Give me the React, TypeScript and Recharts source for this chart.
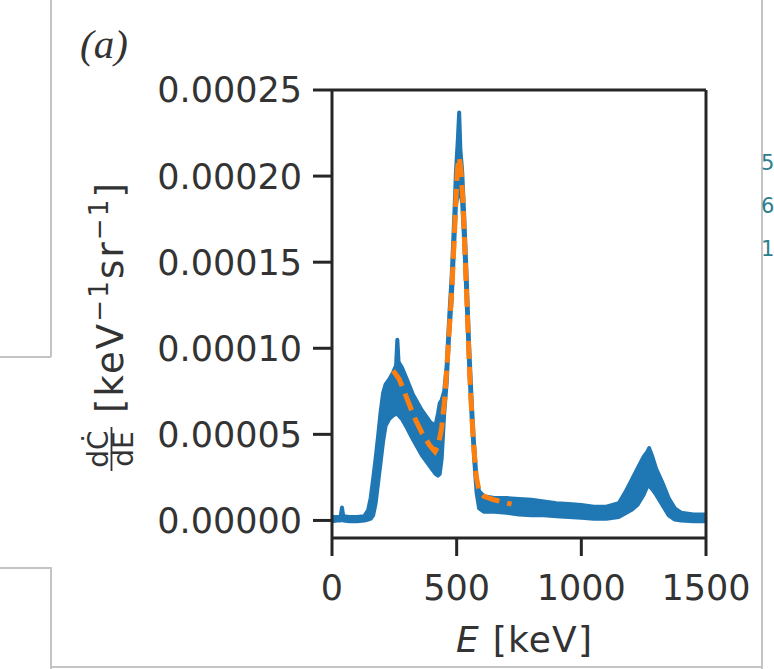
import React from "react";
import {
  Area,
  ComposedChart,
  Line,
  ReferenceLine,
  XAxis,
  YAxis,
} from "recharts";

// measured spectrum, drawn as a noisy band (values in 1e-5 keV^-1 sr^-1)
const energyKeV = [
  0, 20, 35, 40, 45, 70, 100, 130, 145, 155, 165, 175, 185, 195, 205, 215, 230,
  245, 257, 262, 267, 280, 300, 325, 360, 395, 415, 425, 432, 440, 450, 460,
  470, 480, 490, 497, 505, 510, 515, 522, 530, 540, 550, 560, 570, 580, 590,
  610, 650, 700, 750, 800, 850, 900, 950, 1000, 1050, 1100, 1150, 1175, 1200,
  1225, 1250, 1265, 1272, 1285, 1300, 1325, 1350, 1375, 1400, 1450, 1500,
];
const bandLow = [
  -0.05, 0.0, 0.0, 0.05, 0.0, -0.05, -0.05, 0.0, 0.05, 0.1, 0.3, 1.0, 2.2, 3.4,
  4.6, 5.5, 5.9, 6.1, 6.2, 6.2, 6.1, 5.9, 5.4, 4.7, 3.8, 3.1, 2.7, 2.6, 2.7,
  3.6, 6.2, 8.0, 10.8, 12.8, 16.0, 18.3, 19.0, 19.0, 19.0, 18.5, 16.2, 12.8,
  9.0, 6.0, 3.6, 1.6, 0.7, 0.5, 0.5, 0.45, 0.35, 0.3, 0.3, 0.25, 0.2, 0.15, 0.1,
  0.1, 0.2, 0.4, 0.6, 0.9, 1.5, 2.0, 2.0, 1.8, 1.5, 0.9, 0.3, 0.05, 0.0, -0.05,
  -0.05,
];
const bandHigh = [
  0.2, 0.2, 0.25, 0.75, 0.25, 0.2, 0.2, 0.25, 0.6, 1.3, 2.4, 3.6, 4.9, 6.3, 7.4,
  7.9, 8.2, 8.6, 9.0, 10.5, 9.2, 8.9, 8.2, 7.3, 6.4, 5.7, 5.5, 6.2, 6.8, 7.0,
  7.5, 9.0, 11.8, 14.2, 17.5, 20.2, 22.2, 23.7, 21.5, 20.3, 17.8, 14.2, 10.2,
  7.0, 4.4, 2.4, 1.7, 1.4, 1.3, 1.3, 1.25, 1.2, 1.1, 1.0, 0.95, 0.9, 0.8, 0.8,
  1.0, 1.6, 2.3, 3.0, 3.7, 4.0, 4.2, 3.7, 3.0, 2.2, 1.3, 0.7, 0.45, 0.35, 0.35,
];

// fitted curve (orange dashed)
const fitEnergyKeV = [
  245, 270, 300, 330, 360, 390, 413, 425, 439, 453, 466, 481, 490, 497, 503,
  510, 517, 525, 537, 553, 566, 578, 590, 610, 650, 690, 720,
];
const fitValue = [
  8.7, 8.2, 7.1, 6.0, 5.1, 4.4, 4.0, 4.3, 5.3, 7.2, 10.1, 13.5, 16.3, 18.6,
  20.4, 21.1, 20.4, 18.6, 14.2, 8.2, 4.8, 2.6, 1.7, 1.4, 1.2, 1.05, 0.95,
];

const xTicks = [0, 500, 1000, 1500];
const yTicks = [0, 0.00005, 0.0001, 0.00015, 0.0002, 0.00025];

const UNIT = 1e-5;

type Row = { energy: number; band?: [number, number]; fit?: number };

const rowMap = new Map<number, Row>();
energyKeV.forEach((e, i) => {
  rowMap.set(e, { energy: e, band: [bandLow[i] * UNIT, bandHigh[i] * UNIT] });
});
fitEnergyKeV.forEach((e, i) => {
  const r = rowMap.get(e) ?? { energy: e };
  r.fit = fitValue[i] * UNIT;
  rowMap.set(e, r);
});
const table = [...rowMap.values()].sort((a, b) => a.energy - b.energy);

const INK = "#262626";
const TEXT = "#333333";
const FONT = "DejaVu Sans";
const FRAME = "#c4c4c4";

const tickStyle = { fontSize: 35, fill: TEXT, fontFamily: FONT };

function Frame() {
  const line = (s: React.CSSProperties) => (
    <div style={{ position: "absolute", background: FRAME, ...s }} />
  );
  return (
    <>
      {line({ left: 50, top: 0, width: 1.5, height: 357 })}
      {line({ left: 0, top: 356, width: 51, height: 1.5 })}
      {line({ left: 0, top: 567, width: 51, height: 1.5 })}
      {line({ left: 50, top: 567, width: 1.5, height: 102 })}
      {line({ left: 50, top: 666, width: 712, height: 1.5 })}
      {line({ left: 761, top: 0, width: 1.5, height: 669 })}
    </>
  );
}

export default function App() {
  return (
    <div
      style={{
        position: "absolute",
        left: 0,
        top: 0,
        width: 774,
        height: 669,
        background: "#fff",
        overflow: "hidden",
      }}
    >
      <Frame />
      <ComposedChart
        width={774}
        height={669}
        data={table}
        margin={{ top: 90, right: 68, bottom: 71, left: 0 }}
      >
        <XAxis
          type="number"
          dataKey="energy"
          domain={[0, 1500]}
          ticks={xTicks}
          height={60}
          tickSize={18}
          tickMargin={19}
          tick={tickStyle}
          axisLine={{ stroke: INK, strokeWidth: 3 }}
          tickLine={{ stroke: INK, strokeWidth: 3 }}
          allowDataOverflow
        />
        <YAxis
          type="number"
          domain={[-1.02e-5, 0.00025]}
          ticks={yTicks}
          width={332}
          tickSize={19}
          tickMargin={11}
          tick={tickStyle}
          tickFormatter={(v: number) => v.toFixed(5)}
          axisLine={{ stroke: INK, strokeWidth: 3 }}
          tickLine={{ stroke: INK, strokeWidth: 3 }}
          allowDataOverflow
        />
        <Area
          type="linear"
          dataKey="band"
          stroke="#1f77b4"
          strokeWidth={4}
          strokeLinejoin="round"
          fill="#1f77b4"
          fillOpacity={1}
          connectNulls
          dot={false}
          activeDot={false}
          isAnimationActive={false}
        />
        <Line
          type="linear"
          dataKey="fit"
          stroke="#ff7f0e"
          strokeWidth={5}
          strokeDasharray="18 8"
          connectNulls
          dot={false}
          activeDot={false}
          isAnimationActive={false}
        />
        <ReferenceLine y={0.00025} stroke={INK} strokeWidth={3} />
        <ReferenceLine x={1500} stroke={INK} strokeWidth={3} />
      </ComposedChart>

      <svg
        width={774}
        height={669}
        style={{ position: "absolute", left: 0, top: 0, pointerEvents: "none" }}
      >
        <text
          x={80}
          y={58}
          fontFamily="Liberation Serif"
          fontStyle="italic"
          fontSize={41}
          fill={TEXT}
        >
          (a)
        </text>
        <text
          x={524}
          y={652}
          textAnchor="middle"
          fontFamily={FONT}
          fontSize={36}
          textLength={136}
          lengthAdjust="spacing"
          fill={TEXT}
        >
          <tspan fontStyle="italic">E</tspan> [keV]
        </text>
        <g transform="translate(123, 473) rotate(-90)" fontFamily={FONT} fill={TEXT}>
          <text x={24} y={-15} fontSize={28} textAnchor="middle">
            dĊ
          </text>
          <line x1={2} x2={46} y1={-11.5} y2={-11.5} stroke={TEXT} strokeWidth={1.8} />
          <text x={24} y={10} fontSize={28} textAnchor="middle">
            dE
          </text>
          <text x={60} y={0} fontSize={37} textLength={230} lengthAdjust="spacing">
            [keV
            <tspan fontSize={26} dy={-15}>−1</tspan>
            <tspan dy={15}>sr</tspan>
            <tspan fontSize={26} dy={-15}>−1</tspan>
            <tspan dy={15}>]</tspan>
          </text>
        </g>
        <g fontFamily={FONT} fontSize={21} fill="#2e7d8c">
          <text x={761} y={170}>5</text>
          <text x={761} y={213}>6</text>
          <text x={761} y={256}>1</text>
        </g>
      </svg>
    </div>
  );
}
